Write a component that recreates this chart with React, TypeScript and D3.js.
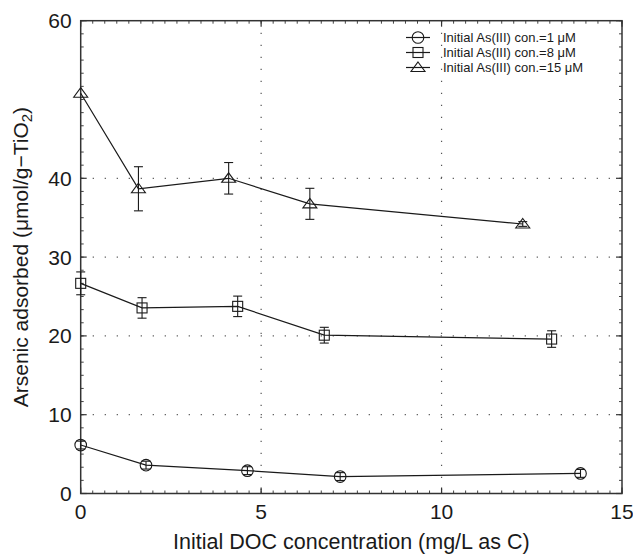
import React from "react";
import * as d3 from "d3";

// DOC (mg/L as C) and adsorbed As (umol/g-TiO2) for each initial As(III) level
const docLow = [0, 1.81, 4.62, 7.19, 13.85];
const asLow = [6.15, 3.6, 2.9, 2.15, 2.55];
const errLow = [0.5, 0.5, 0.5, 0.5, 0.5];

const docMid = [0, 1.7, 4.35, 6.75, 13.05];
const asMid = [26.67, 23.55, 23.75, 20.09, 19.6];
const errMid = [1.45, 1.3, 1.3, 1.0, 1.05];

const docHigh = [0, 1.6, 4.1, 6.35, 12.25];
const asHigh = [50.8, 38.67, 40.0, 36.76, 34.2];
const errHigh = [0, 2.8, 2.0, 1.97, 0.3];

const legendLabels = [
  "Initial As(III) con.=1 \u03BCM",
  "Initial As(III) con.=8 \u03BCM",
  "Initial As(III) con.=15 \u03BCM",
];
const markerKinds = ["circle", "square", "triangle"];

const xTicks = [0, 5, 10, 15];
const yTicks = [0, 10, 20, 30, 40, 60];
const xGrid = [5, 10];
const yGrid = [10, 20, 30, 40];

const W = 633;
const H = 554;
const margin = { top: 20.7, right: 11, bottom: 60.5, left: 80.7 };
const FONT = "'Liberation Sans', Arial, Helvetica, sans-serif";
const INK = "#1a1a1a";

function Marker({ kind, x, y }: { kind: string; x: number; y: number }) {
  //open markers like matlab
  if (kind === "circle")
    return <circle cx={x} cy={y} r={5.8} fill="none" stroke={INK} strokeWidth={1.1} />;
  if (kind === "square")
    return <rect x={x - 5} y={y - 5} width={10} height={10} fill="none" stroke={INK} strokeWidth={1.1} />;
  return (
    <path
      d={`M${x},${y - 5.5}L${x + 7},${y + 4}L${x - 7},${y + 4}Z`}
      fill="none"
      stroke={INK}
      strokeWidth={1.1}
    />
  );
}

export default function App() {
  const x = d3.scaleLinear().domain([0, 15]).range([margin.left, W - margin.right]);
  const y = d3.scaleLinear().domain([0, 60]).range([H - margin.bottom, margin.top]);

  const x0 = x(0), x1 = x(15), y0 = y(0), y1 = y(60);

  const series = [
    { xs: docLow, ys: asLow, es: errLow, kind: "circle" },
    { xs: docMid, ys: asMid, es: errMid, kind: "square" },
    { xs: docHigh, ys: asHigh, es: errHigh, kind: "triangle" },
  ];

  const line = d3.line<[number, number]>()
    .x((d) => x(d[0]))
    .y((d) => y(d[1]));

  //minor ticks
  const xMinor = d3.range(0, 46).map((i) => i / 3);
  const yMinor = d3.range(0, 37).map((i) => (i * 5) / 3);

  const cap = 4.5;

  return (
    <svg
      width={W}
      height={H}
      style={{ position: "absolute", left: 0, top: 0, background: "#fff" }}
      fontFamily={FONT}
    >
      {/* grid */}
      {xGrid.map((v) => (
        <line key={"gx" + v} x1={x(v)} x2={x(v)} y1={y1} y2={y0}
          stroke="#555" strokeWidth={1.2} strokeDasharray="1.2 10.8" />
      ))}
      {yGrid.map((v) => (
        <line key={"gy" + v} x1={x0} x2={x1} y1={y(v)} y2={y(v)}
          stroke="#555" strokeWidth={1.2} strokeDasharray="1.2 10.8" />
      ))}

      {/* minor ticks on all four sides */}
      {xMinor.map((v, i) => (
        <g key={"xm" + i} stroke="#444" strokeWidth={1}>
          <line x1={x(v)} x2={x(v)} y1={y0} y2={y0 - 3} />
          <line x1={x(v)} x2={x(v)} y1={y1} y2={y1 + 3} />
        </g>
      ))}
      {yMinor.map((v, i) => (
        <g key={"ym" + i} stroke="#444" strokeWidth={1}>
          <line x1={x0} x2={x0 + 3} y1={y(v)} y2={y(v)} />
          <line x1={x1} x2={x1 - 3} y1={y(v)} y2={y(v)} />
        </g>
      ))}
      {xTicks.map((v) => (
        <g key={"xt" + v} stroke="#333" strokeWidth={1.2}>
          <line x1={x(v)} x2={x(v)} y1={y0} y2={y0 - 6} />
          <line x1={x(v)} x2={x(v)} y1={y1} y2={y1 + 6} />
        </g>
      ))}
      {yTicks.map((v) => (
        <g key={"yt" + v} stroke="#333" strokeWidth={1.2}>
          <line x1={x0} x2={x0 + 6} y1={y(v)} y2={y(v)} />
          <line x1={x1} x2={x1 - 6} y1={y(v)} y2={y(v)} />
        </g>
      ))}

      {/* frame */}
      <rect x={x0} y={y1} width={x1 - x0} height={y0 - y1} fill="none" stroke="#333" strokeWidth={1.5} />

      {/* tick labels */}
      {xTicks.map((v) => (
        <text key={"xl" + v} x={x(v)} y={y0 + 25} textAnchor="middle" fontSize={21} fill={INK}>
          {v}
        </text>
      ))}
      {yTicks.map((v) => (
        <text key={"yl" + v} x={x0 - 9} y={y(v) + 7.5} textAnchor="end" fontSize={21} fill={INK}>
          {v}
        </text>
      ))}

      {/* series */}
      {series.map((s, si) => {
        const pts = s.xs.map((d, i) => [d, s.ys[i]] as [number, number]);
        return (
          <g key={"s" + si}>
            <path d={line(pts) || ""} fill="none" stroke={INK} strokeWidth={1.2} />
            {pts.map((p, i) =>
              s.es[i] > 0 ? (
                <g key={"e" + i} stroke={INK} strokeWidth={1.1}>
                  <line x1={x(p[0])} x2={x(p[0])} y1={y(p[1] - s.es[i])} y2={y(p[1] + s.es[i])} />
                  <line x1={x(p[0]) - cap} x2={x(p[0]) + cap} y1={y(p[1] - s.es[i])} y2={y(p[1] - s.es[i])} />
                  <line x1={x(p[0]) - cap} x2={x(p[0]) + cap} y1={y(p[1] + s.es[i])} y2={y(p[1] + s.es[i])} />
                </g>
              ) : null
            )}
            {pts.map((p, i) => (
              <Marker key={"m" + i} kind={s.kind} x={x(p[0])} y={y(p[1])} />
            ))}
          </g>
        );
      })}

      {/* legend */}
      {legendLabels.map((lab, i) => {
        const ly = 37.5 + i * 15;
        return (
          <g key={"lg" + i}>
            <line x1={406} x2={430} y1={ly} y2={ly} stroke={INK} strokeWidth={1.2} />
            <Marker kind={markerKinds[i]} x={418} y={ly} />
            <text x={443} y={ly + 4.6} fontSize={13} fill={INK}>{lab}</text>
          </g>
        );
      })}

      {/* axis titles */}
      <text x={(x0 + x1) / 2} y={H - 5} textAnchor="middle" fontSize={21.5} fill={INK}>
        Initial DOC concentration (mg/L as C)
      </text>
      <text
        transform="rotate(-90)"
        x={-(y0 + y1) / 2}
        y={28}
        textAnchor="middle"
        fontSize={21}
        fill={INK}
      >
        Arsenic adsorbed ({"\u03BC"}mol/g{"\u2212"}TiO<tspan dy={4} fontSize={15}>2</tspan>
        <tspan dy={-4}>)</tspan>
      </text>
    </svg>
  );
}
